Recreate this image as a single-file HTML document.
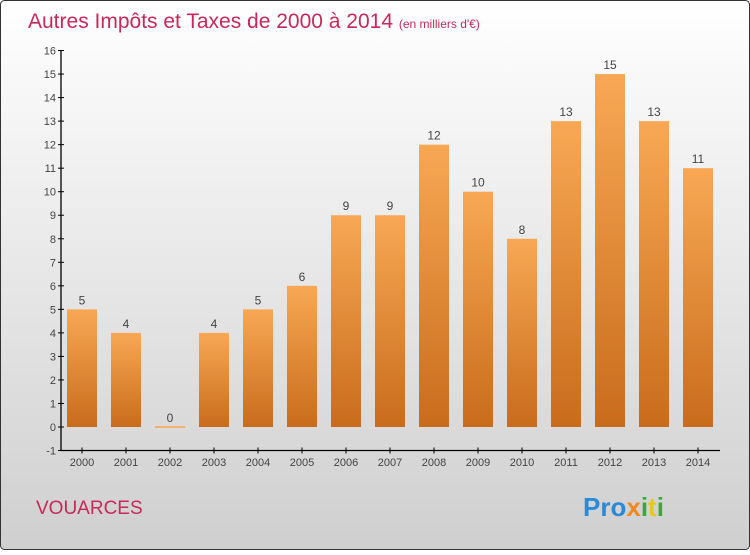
<!DOCTYPE html>
<html><head><meta charset="utf-8"><style>
body{margin:0;width:750px;height:550px;overflow:hidden;font-family:"Liberation Sans",sans-serif}
</style></head><body>
<svg width="750" height="550" xmlns="http://www.w3.org/2000/svg">
<defs>
<linearGradient id="bg" x1="0" y1="0" x2="0" y2="1"><stop offset="0" stop-color="#ffffff"/><stop offset="1" stop-color="#cfcfcf"/></linearGradient>
<linearGradient id="bar" x1="0" y1="0" x2="0" y2="1"><stop offset="0" stop-color="#f8a854"/><stop offset="1" stop-color="#c86c1c"/></linearGradient>
</defs>
<rect x="0.5" y="0.5" width="749" height="549" rx="4" fill="url(#bg)" stroke="#333"/>
<text x="28" y="28" font-size="21" fill="#c8285a">Autres Impôts et Taxes de 2000 à 2014 <tspan font-size="12">(en milliers d'€)</tspan></text>
<g id="axes"></g>
<g id="bars"></g>
<text x="36" y="514" font-size="19" fill="#c8285a">VOUARCES</text>
<text x="583" y="516" font-size="26" font-weight="bold"><tspan fill="#2a8ad8">Pro</tspan><tspan fill="#f08a1c">x</tspan><tspan fill="#3aa83a">i</tspan><tspan fill="#e8c81c">t</tspan><tspan fill="#3aa83a">i</tspan></text>
</svg>
<script>
const years=["2000","2001","2002","2003","2004","2005","2006","2007","2008","2009","2010","2011","2012","2013","2014"];
const values=[5,4,0,4,5,6,9,9,12,10,8,13,15,13,11];
const yTicks=[-1,0,1,2,3,4,5,6,7,8,9,10,11,12,13,14,15,16];
const NS="http://www.w3.org/2000/svg";
const y0=427,unit=(450-50)/17;
function yS(v){return y0-v*unit;}
function xS(i){return 82+i*44;}
function mk(t,a,p){const e=document.createElementNS(NS,t);for(const k in a)e.setAttribute(k,a[k]);p.appendChild(e);return e;}
const ax=document.getElementById('axes'),bg=document.getElementById('bars');
const yl=mk('line',{x1:61,y1:yS(16),x2:61,y2:yS(-1),stroke:'#000','stroke-width':1.3},ax);


const xl=mk('line',{x1:61,y1:yS(-1),x2:720,y2:yS(-1),stroke:'#000','stroke-width':1.3},ax);


yTicks.forEach(t=>{
  mk('line',{x1:58,x2:64,y1:yS(t),y2:yS(t),stroke:'#000'},ax);
  const tx=mk('text',{x:56,y:yS(t)+4,'font-size':11,fill:'#444','text-anchor':'end'},ax);
  tx.textContent=t;
  
  
});
years.forEach((yr,i)=>{
  const x=xS(i);
  mk('line',{x1:x,x2:x,y1:yS(-1)-3,y2:yS(-1)+3,stroke:'#000'},ax);
  const tx=mk('text',{x:x,y:466,'font-size':11,fill:'#444','text-anchor':'middle'},ax);
  tx.textContent=yr;
  
  
  const v=values[i];
  let r;
  if(v===0){r=mk('rect',{x:x-15,y:y0-1,width:30,height:2,fill:'#f0b070'},bg);}
  else{r=mk('rect',{x:x-15,y:yS(v),width:30,height:y0-yS(v),fill:'url(#bar)'},bg);}
  
  
  const lb=mk('text',{x:x,y:yS(v)-5,'font-size':12,fill:'#444','text-anchor':'middle'},bg);
  lb.textContent=v;
  
  
});
</script>
</body></html>
